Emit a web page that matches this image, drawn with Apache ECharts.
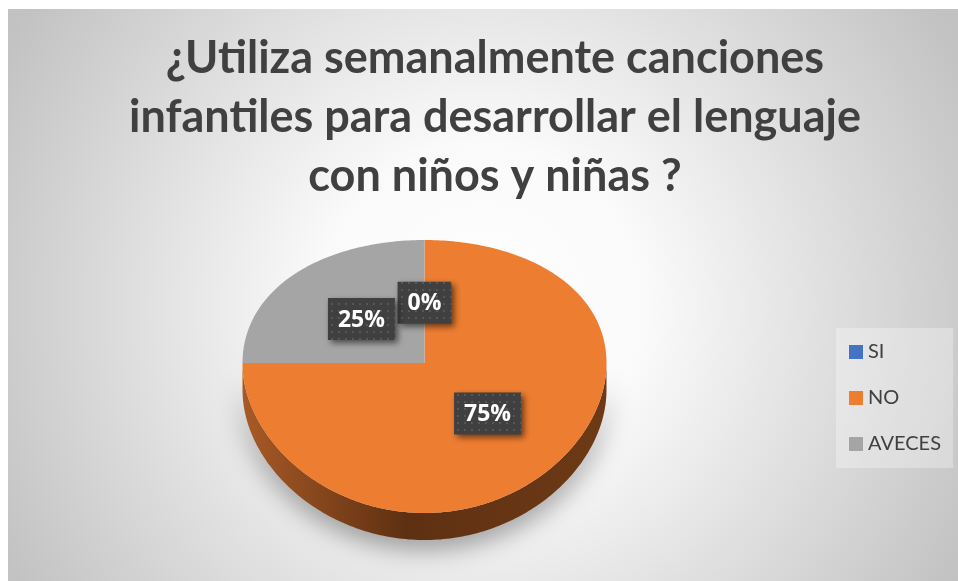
<!DOCTYPE html>
<html>
<head>
<meta charset="utf-8">
<script src="https://cdn.jsdelivr.net/npm/echarts@6/dist/echarts.min.js"></script>
<style>
html,body{margin:0;padding:0;background:#fff;}
#chart{width:958px;height:581px;}
</style>
</head>
<body>
<div id="chart"></div>
<script>
// ---- data ----
const CATEGORIES = ['SI', 'NO', 'AVECES'];
const VALUES = [0, 75, 25];
const COLORS = ['#4472C4', '#ED7D31', '#A5A5A5'];
const TITLE_LINES = ['¿Utiliza semanalmente canciones', 'infantiles para desarrollar el lenguaje', 'con niños y niñas ?'];

// ---- layout ----
const CX = 424.5, CY = 363, RX = 182, RY_TOP = 123, RY_BOT = 150, DEPTH = 27;
const LABEL_F = 0.49;
const LABEL_FONT = 'bold 23px "Open Sans"';

const TOTAL = VALUES.reduce((a, b) => a + b, 0);
function ryAt(t) { return (RY_TOP + RY_BOT) / 2 - (RY_BOT - RY_TOP) / 2 * Math.cos(t); }
function pt(t, dy) { return [CX + RX * Math.sin(t), CY - ryAt(t) * Math.cos(t) + (dy || 0)]; }
function arc(a, b, dy) {
  const pts = [];
  const n = Math.max(2, Math.ceil(Math.abs(b - a) / (Math.PI / 180)));
  for (let i = 0; i <= n; i++) pts.push(pt(a + (b - a) * i / n, dy));
  return pts;
}

// dotted pattern for label boxes
const pat = document.createElement('canvas');
pat.width = 7; pat.height = 7;
(function () {
  const g = pat.getContext('2d');
  g.fillStyle = '#404040'; g.fillRect(0, 0, 7, 7);
  g.fillStyle = '#575757'; g.fillRect(2, 2, 2, 2);
})();
const measureCtx = document.createElement('canvas').getContext('2d');

function renderSlice(idx) {
  return function (params, api) {
    const v = api.value(0);
    let before = 0;
    for (let i = 0; i < idx; i++) before += VALUES[i];
    const a0 = before / TOTAL * Math.PI * 2;
    const a1 = (before + v) / TOTAL * Math.PI * 2;
    const color = COLORS[idx];
    const children = [];
    // side face (visible front half)
    const s0 = Math.max(a0, Math.PI / 2), s1 = Math.min(a1, Math.PI * 3 / 2);
    if (s1 > s0) {
      const top = arc(s0, s1, 0);
      const bottom = arc(s1, s0, DEPTH);
      children.push({
        type: 'polygon', z2: 1,
        shape: { points: top.concat(bottom) },
        style: {
          fill: new echarts.graphic.LinearGradient(CX - RX, 0, CX + RX, 0, [
            { offset: 0, color: '#a85a26' },
            { offset: 0.45, color: '#5e3012' },
            { offset: 1, color: '#6e3a16' }
          ], true),
          shadowColor: 'rgba(0,0,0,0.4)', shadowBlur: 26, shadowOffsetY: 8
        }
      });
    }
    if (a1 > a0) {
      children.push({
        type: 'polygon', z2: 2,
        shape: { points: [[CX, CY]].concat(arc(a0, a1, 0)) },
        style: { fill: color }
      });
    }
    // label
    const m = (a0 + a1) / 2;
    const lx = CX + LABEL_F * RX * Math.sin(m);
    const ly = CY - LABEL_F * ryAt(m) * Math.cos(m);
    const txt = Math.round(v / TOTAL * 100) + '%';
    measureCtx.font = LABEL_FONT;
    const w = measureCtx.measureText(txt).width + 20;
    const h = 42;
    children.push({
      type: 'rect', z2: 50,
      shape: { x: lx - w / 2, y: ly - h / 2, width: w, height: h },
      style: {
        fill: { image: pat, repeat: 'repeat' },
        shadowColor: 'rgba(0,0,0,0.55)', shadowBlur: 6, shadowOffsetX: 3, shadowOffsetY: 3
      }
    });
    children.push({
      type: 'text', z2: 51,
      x: lx, y: ly + 1,
      style: {
        text: txt, fill: '#ffffff', font: LABEL_FONT,
        align: 'center', verticalAlign: 'middle'
      }
    });
    return { type: 'group', children: children };
  };
}

const chart = echarts.init(document.getElementById('chart'), null, { renderer: 'canvas' });
chart.setOption({
  animation: false,
  graphic: [{
    type: 'rect', z: -10, silent: true,
    shape: { x: 8, y: 9, width: 950, height: 572 },
    style: {
      fill: new echarts.graphic.RadialGradient(0.5, 0.52, 0.95, [
        { offset: 0, color: '#ffffff' },
        { offset: 0.3, color: '#fafafa' },
        { offset: 1, color: '#c2c2c2' }
      ])
    }
  }],
  title: {
    text: TITLE_LINES.join('\n'),
    left: 490, top: 24, textAlign: 'center',
    textStyle: { fontFamily: 'Lato', fontWeight: 'bold', fontSize: 45, lineHeight: 59, color: '#404040' }
  },
  legend: {
    orient: 'vertical', left: 836, top: 328,
    data: CATEGORIES,
    icon: 'rect', itemWidth: 14, itemHeight: 14, itemGap: 26, itemTextGap: 7,
    padding: [14, 12, 14, 13],
    backgroundColor: 'rgba(255,255,255,0.3)',
    textStyle: { fontFamily: 'Lato', fontSize: 20, color: '#404040' }
  },
  series: CATEGORIES.map((name, i) => ({
    type: 'custom', name: name, coordinateSystem: 'none',
    itemStyle: { color: COLORS[i] },
    data: [[VALUES[i]]],
    renderItem: renderSlice(i)
  }))
});
</script>
</body>
</html>
